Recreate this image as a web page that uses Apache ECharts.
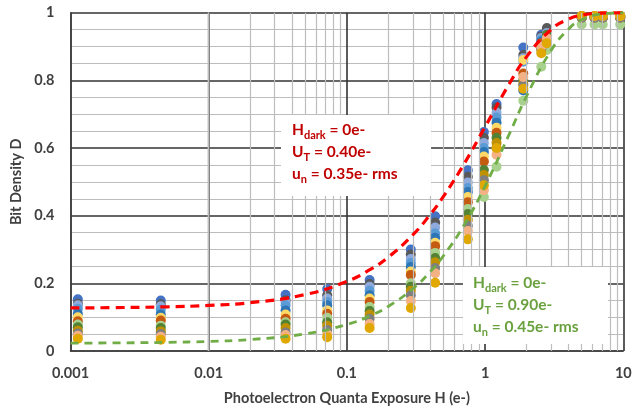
<!DOCTYPE html>
<html>
<head>
<meta charset="utf-8">
<script src="https://cdn.jsdelivr.net/npm/echarts@6/dist/echarts.min.js"></script>
<style>
html,body{margin:0;padding:0;background:#fff;}
#chart{width:644px;height:411px;}
</style>
</head>
<body>
<div id="chart"></div>
<script>
// ---- data ----
const exposures = [0.00113, 0.0045, 0.036, 0.072, 0.146, 0.29, 0.435, 0.75, 0.98, 1.21, 1.89, 2.55, 2.8, 5.0, 6.2, 7.1, 9.5];

const sA = [0.153, 0.149, 0.166, 0.183, 0.210, 0.300, 0.398, 0.534, 0.647, 0.730, 0.897, 0.935, 0.945, 0.990, 0.990, 0.990, 0.990];
const sB = [0.140, 0.138, 0.150, 0.165, 0.198, 0.285, 0.380, 0.515, 0.630, 0.720, 0.875, 0.930, 0.955, 0.990, 0.990, 0.990, 0.990];
const sC = [0.135, 0.132, 0.145, 0.155, 0.190, 0.272, 0.365, 0.498, 0.615, 0.705, 0.865, 0.925, 0.940, 0.985, 0.985, 0.985, 0.985];
const sD = [0.125, 0.122, 0.135, 0.145, 0.178, 0.260, 0.348, 0.482, 0.600, 0.690, 0.855, 0.920, 0.935, 0.990, 0.990, 0.990, 0.990];
const sE = [0.110, 0.108, 0.120, 0.135, 0.165, 0.248, 0.335, 0.470, 0.588, 0.675, 0.770, 0.915, 0.930, 0.985, 0.985, 0.985, 0.985];
const sF = [0.100, 0.098, 0.108, 0.120, 0.155, 0.235, 0.320, 0.455, 0.575, 0.660, 0.860, 0.900, 0.925, 0.990, 0.990, 0.990, 0.990];
const sG = [0.088, 0.090, 0.095, 0.110, 0.145, 0.225, 0.310, 0.440, 0.560, 0.645, 0.820, 0.910, 0.920, 0.985, 0.985, 0.985, 0.985];
const sH = [0.078, 0.075, 0.085, 0.098, 0.130, 0.200, 0.290, 0.420, 0.455, 0.545, 0.740, 0.840, 0.890, 0.965, 0.965, 0.965, 0.965];
const sI = [0.070, 0.068, 0.078, 0.085, 0.118, 0.190, 0.275, 0.405, 0.535, 0.630, 0.800, 0.900, 0.935, 0.990, 0.990, 0.990, 0.990];
const sJ = [0.060, 0.058, 0.068, 0.075, 0.108, 0.178, 0.262, 0.388, 0.520, 0.615, 0.790, 0.890, 0.915, 0.985, 0.985, 0.985, 0.985];
const sK = [0.052, 0.050, 0.055, 0.062, 0.095, 0.165, 0.245, 0.370, 0.505, 0.600, 0.785, 0.895, 0.920, 0.985, 0.985, 0.985, 0.985];
const sL = [0.045, 0.042, 0.047, 0.050, 0.080, 0.148, 0.230, 0.355, 0.475, 0.580, 0.810, 0.900, 0.925, 0.990, 0.990, 0.990, 0.990];
const sM = [0.036, 0.033, 0.036, 0.041, 0.068, 0.127, 0.202, 0.330, 0.490, 0.600, 0.775, 0.880, 0.910, 0.990, 0.990, 0.990, 0.990];

const scatterSeries = [sA, sB, sC, sD, sE, sF, sG, sH, sI, sJ, sK, sL, sM];
const scatterColors = ['#4472C4', '#595959', '#8FAADC', '#5B9BD5', '#2E75B6', '#FFD966', '#C55A11',
                       '#A9D18E', '#548235', '#BF9000', '#7F7F7F', '#F4B183', '#E0A800'];

// model curves
const curveH = [0.001, 0.002, 0.005, 0.01, 0.02, 0.05, 0.1, 0.15, 0.2, 0.3, 0.4, 0.5, 0.7, 1, 1.5, 2, 3, 4, 5, 7, 10];
const redD   = [0.1273, 0.1282, 0.1306, 0.1348, 0.1429, 0.1670, 0.2057, 0.2426, 0.2778, 0.3433, 0.4029, 0.4571, 0.5512, 0.6627, 0.7906, 0.8701, 0.9500, 0.9808, 0.9927, 0.9989, 0.9999];
const greenD = [0.0233, 0.0239, 0.0256, 0.0284, 0.0340, 0.0508, 0.0784, 0.1056, 0.1323, 0.1842, 0.2340, 0.2817, 0.3706, 0.4876, 0.6422, 0.7542, 0.8882, 0.9508, 0.9789, 0.9963, 0.9998];

// axes
const xMinorGrid = [0.002,0.003,0.004,0.005,0.006,0.007,0.008,0.009,
                    0.02,0.03,0.04,0.05,0.06,0.07,0.08,0.09,
                    0.2,0.3,0.4,0.5,0.6,0.7,0.8,0.9,
                    2,3,4,5,6,7,8,9];
const xTickLabels = ['0.001', '0.01', '0.1', '1', '10'];
const yTickLabels = ['0', '0.2', '0.4', '0.6', '0.8', '1'];

const redLabel = ['H{sub|dark} = 0e-', 'U{sub|T} = 0.40e-', 'u{sub|n} = 0.35e- rms'];
const greenLabel = ['H{sub|dark} = 0e-', 'U{sub|T} = 0.90e-', 'u{sub|n} = 0.45e- rms'];

// ---- chart ----
const FONT = 'Lato';
const chart = echarts.init(document.getElementById('chart'), null, {renderer: 'canvas'});

function richFor(color) {
  return {
    fontFamily: FONT, fontWeight: 'bold', fontSize: 15.5, fill: color, lineHeight: 22,
    rich: {
      sub: {fontFamily: FONT, fontWeight: 'bold', fontSize: 11, fill: color, lineHeight: 11, verticalAlign: 'bottom'}
    }
  };
}

const series = [];
series.push({
  type: 'line', data: [], z: 1, silent: true,
  markLine: {
    silent: true, symbol: ['none', 'none'], label: {show: false},
    lineStyle: {color: '#bdbdbd', width: 1.2, type: 'solid'},
    emphasis: {disabled: true},
    data: xMinorGrid.map(v => ({xAxis: v}))
  }
});
scatterSeries.forEach((vals, i) => {
  series.push({
    type: 'scatter', z: 3, symbolSize: 10,
    itemStyle: {color: scatterColors[i], opacity: 1},
    data: exposures.map((x, j) => [x, vals[j]])
  });
});
series.push({
  type: 'line', z: 5, smooth: true, showSymbol: false, symbol: 'none',
  lineStyle: {color: '#FF0000', width: 3.2, type: [9, 6]},
  data: curveH.map((h, i) => [h, redD[i]])
});
series.push({
  type: 'line', z: 5, smooth: true, showSymbol: false, symbol: 'none',
  lineStyle: {color: '#70AD47', width: 2.8, type: [8, 6]},
  data: curveH.map((h, i) => [h, greenD[i]])
});

const option = {
  animation: false,
  backgroundColor: '#ffffff',
  grid: {left: 70.5, right: 20.7, top: 12.7, bottom: 57, containLabel: false},
  xAxis: {
    type: 'log', logBase: 10, min: 0.001, max: 10,
    name: 'Photoelectron Quanta Exposure H (e-)',
    nameLocation: 'middle', nameGap: 40,
    nameTextStyle: {fontFamily: FONT, fontWeight: 'bold', fontSize: 14.5, color: '#404040'},
    axisLine: {show: true, lineStyle: {color: '#404040', width: 1.5}},
    axisTick: {show: false},
    axisLabel: {
      fontFamily: FONT, fontWeight: 'bold', fontSize: 14.5, color: '#404040', margin: 15,
      formatter: v => xTickLabels[Math.round(Math.log10(v)) + 3]
    },
    splitLine: {show: true, lineStyle: {color: '#333333', width: 1.6}}
  },
  yAxis: {
    type: 'value', min: 0, max: 1, interval: 0.2,
    name: 'Bit Density D',
    nameLocation: 'middle', nameGap: 42,
    nameTextStyle: {fontFamily: FONT, fontWeight: 'bold', fontSize: 14.5, color: '#404040'},
    axisLine: {show: true, lineStyle: {color: '#404040', width: 1.5}},
    axisTick: {show: false},
    axisLabel: {
      fontFamily: FONT, fontWeight: 'bold', fontSize: 14.5, color: '#404040', margin: 16,
      formatter: v => yTickLabels[Math.round(v * 5)]
    },
    splitLine: {show: true, lineStyle: {color: '#333333', width: 1.6}},
    minorTick: {show: false, splitNumber: 4},
    minorSplitLine: {show: true, lineStyle: {color: '#bdbdbd', width: 1.2}}
  },
  series: series,
  graphic: [
    {type: 'rect', z: 100, shape: {x: 281, y: 115, width: 150, height: 81}, style: {fill: '#ffffff'}},
    {type: 'text', z: 101, x: 292, y: 119, style: Object.assign({text: redLabel.join('\n'), verticalAlign: 'top'}, richFor('#C00000'))},
    {type: 'rect', z: 100, shape: {x: 463, y: 267, width: 145, height: 77}, style: {fill: '#ffffff'}},
    {type: 'text', z: 101, x: 473, y: 272, style: Object.assign({text: greenLabel.join('\n'), verticalAlign: 'top'}, richFor('#6AA13F'))}
  ]
};
chart.setOption(option);
</script>
</body>
</html>
